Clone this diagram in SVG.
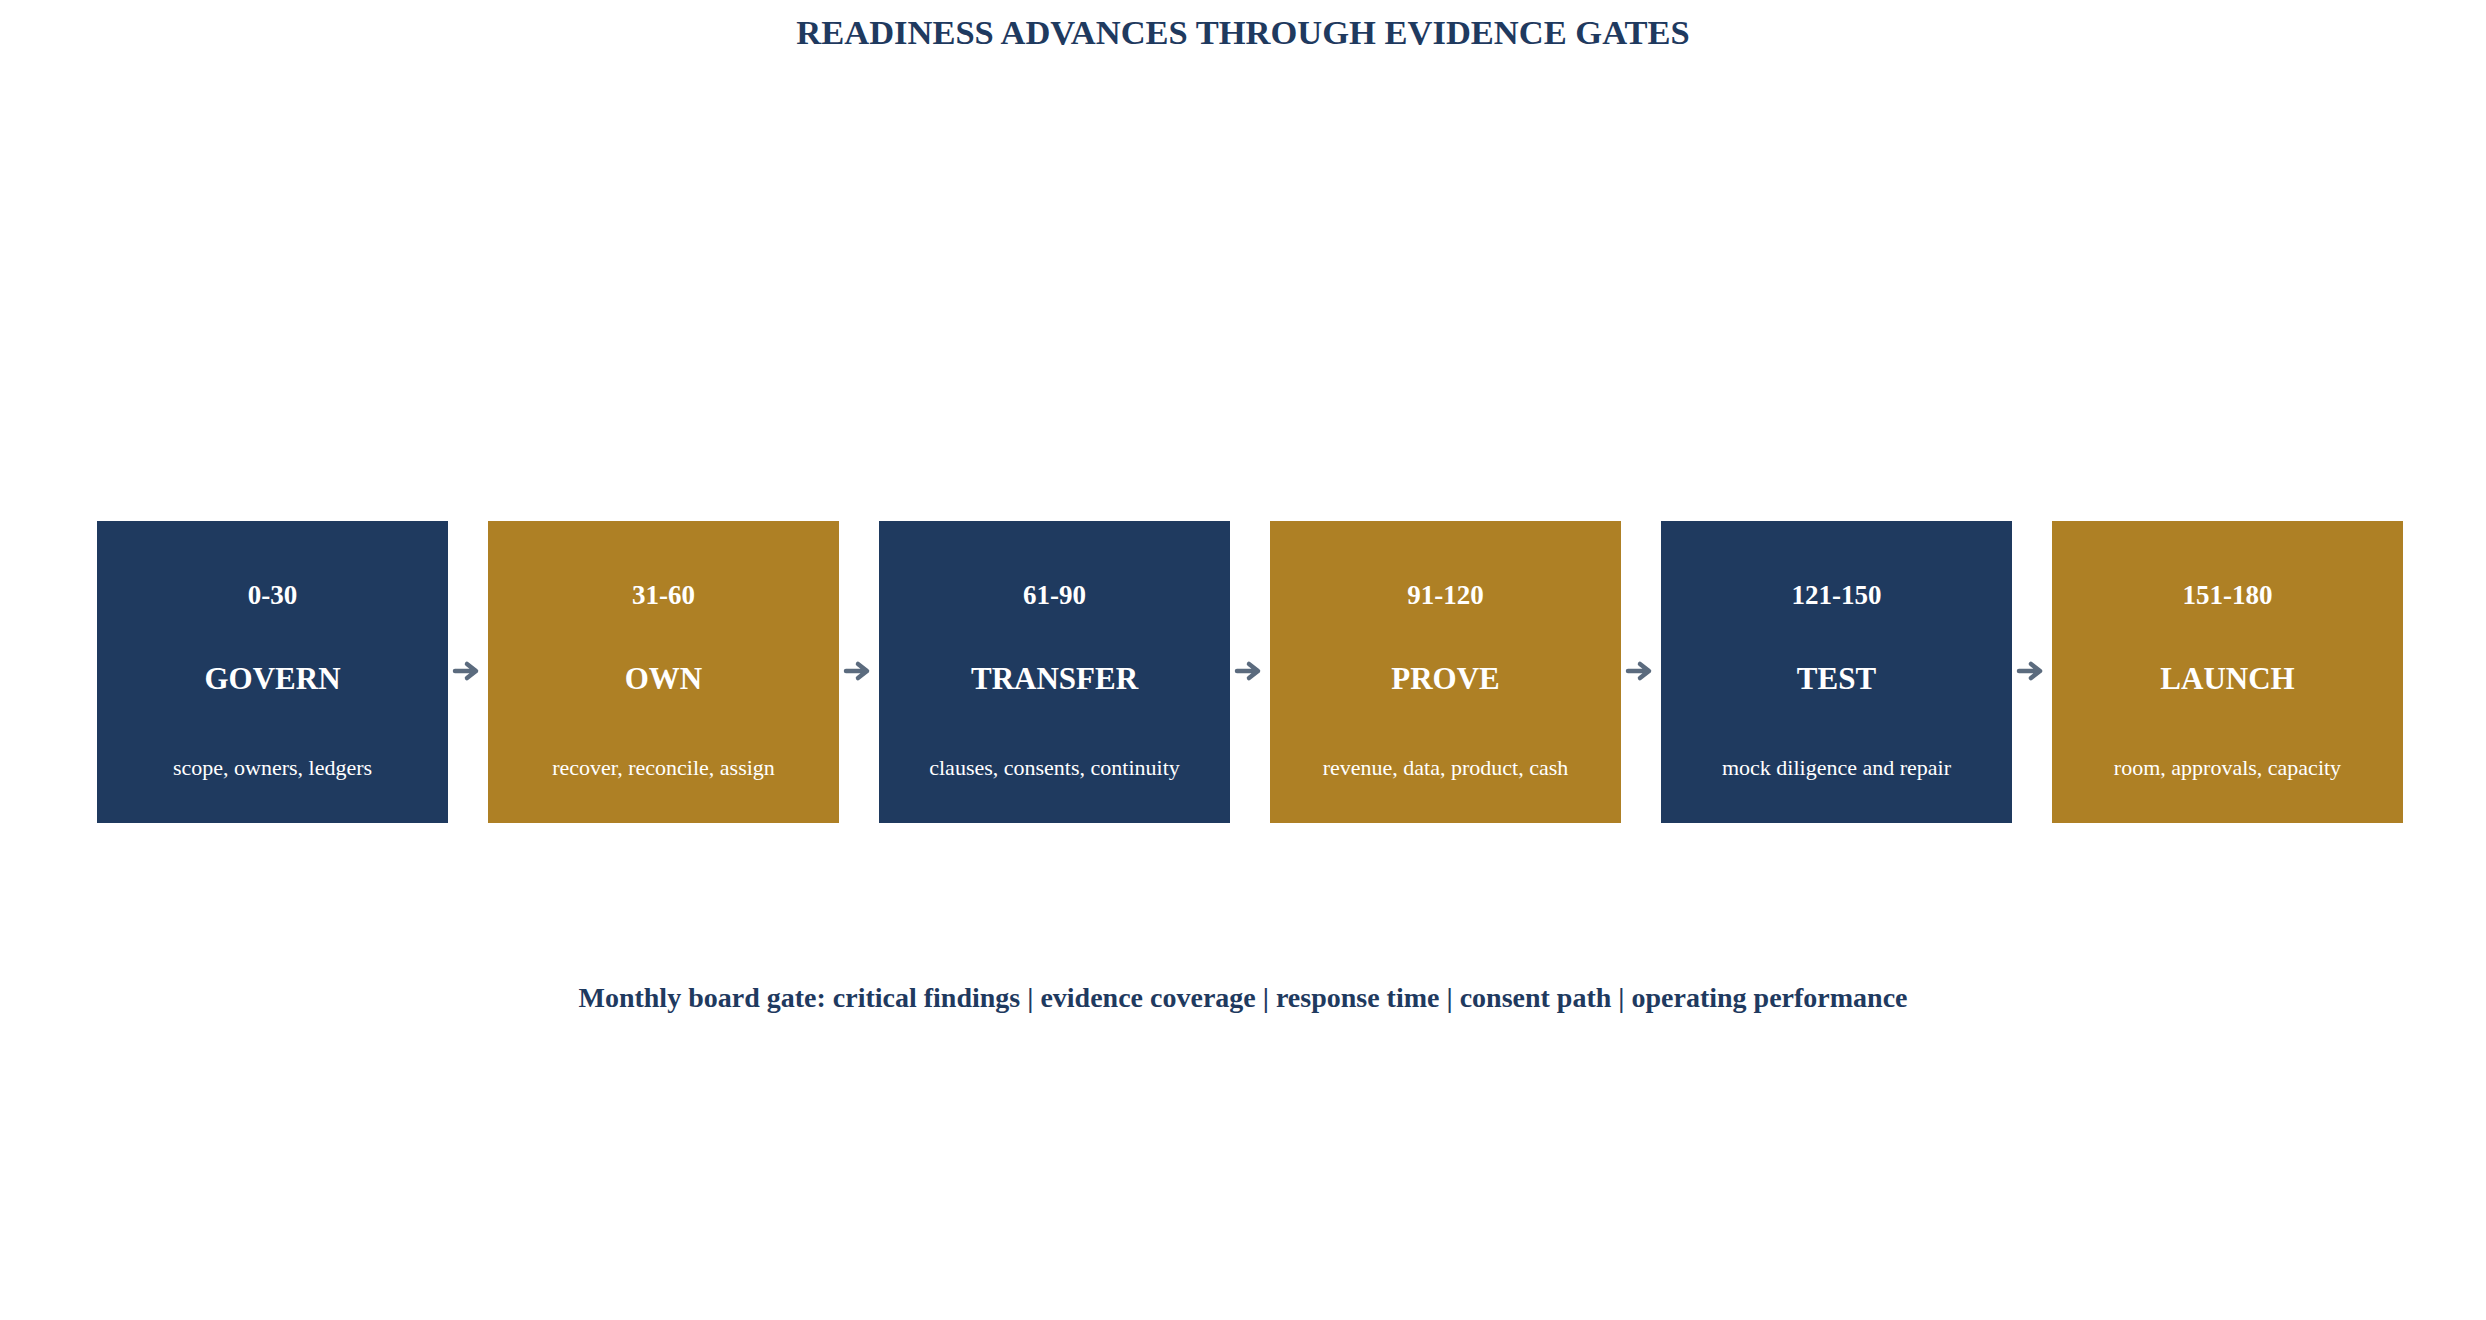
<svg xmlns="http://www.w3.org/2000/svg" width="2486" height="1320" viewBox="0 0 2486 1320">
<style>
.bg{fill:#ffffff}
.navy{fill:#1f3a5f}
.gold{fill:#ae8025}
.t{font-family:"Liberation Serif","Times New Roman",serif;text-anchor:middle}
.title{font-size:34.5px;font-weight:bold;fill:#1f3a5f}
.range{font-size:27px;font-weight:bold;fill:#ffffff}
.name{font-size:31px;font-weight:bold;fill:#ffffff}
.desc{font-size:22px;fill:#ffffff}
.foot{font-size:28px;font-weight:bold;fill:#1f3a5f}
.arr{fill:none;stroke:#5b6b7e;stroke-width:4.5;stroke-linecap:round;stroke-linejoin:round}
</style>
<rect class="bg" x="0" y="0" width="2486" height="1320"/>
<text class="t title" x="1243" y="44">READINESS ADVANCES THROUGH EVIDENCE GATES</text>
<g id="n1"><rect class="navy" x="97" y="521" width="351" height="302"/><text class="t range" x="272.5" y="604">0-30</text><text class="t name" x="272.5" y="689">GOVERN</text><text class="t desc" x="272.5" y="775">scope, owners, ledgers</text></g>
<g id="n2"><rect class="gold" x="488" y="521" width="351" height="302"/><text class="t range" x="663.5" y="604">31-60</text><text class="t name" x="663.5" y="689">OWN</text><text class="t desc" x="663.5" y="775">recover, reconcile, assign</text></g>
<g id="n3"><rect class="navy" x="879" y="521" width="351" height="302"/><text class="t range" x="1054.5" y="604">61-90</text><text class="t name" x="1054.5" y="689">TRANSFER</text><text class="t desc" x="1054.5" y="775">clauses, consents, continuity</text></g>
<g id="n4"><rect class="gold" x="1270" y="521" width="351" height="302"/><text class="t range" x="1445.5" y="604">91-120</text><text class="t name" x="1445.5" y="689">PROVE</text><text class="t desc" x="1445.5" y="775">revenue, data, product, cash</text></g>
<g id="n5"><rect class="navy" x="1661" y="521" width="351" height="302"/><text class="t range" x="1836.5" y="604">121-150</text><text class="t name" x="1836.5" y="689">TEST</text><text class="t desc" x="1836.5" y="775">mock diligence and repair</text></g>
<g id="n6"><rect class="gold" x="2052" y="521" width="351" height="302"/><text class="t range" x="2227.5" y="604">151-180</text><text class="t name" x="2227.5" y="689">LAUNCH</text><text class="t desc" x="2227.5" y="775">room, approvals, capacity</text></g>
<g id="connectors">
<path class="arr" d="M455,671 H475 M467,664 L476,671 L467,678"/>
<path class="arr" d="M846,671 H866 M858,664 L867,671 L858,678"/>
<path class="arr" d="M1237,671 H1257 M1249,664 L1258,671 L1249,678"/>
<path class="arr" d="M1628,671 H1648 M1640,664 L1649,671 L1640,678"/>
<path class="arr" d="M2019,671 H2039 M2031,664 L2040,671 L2031,678"/>
</g>
<text class="t foot" x="1243" y="1007">Monthly board gate: critical findings | evidence coverage | response time | consent path | operating performance</text>
</svg>
